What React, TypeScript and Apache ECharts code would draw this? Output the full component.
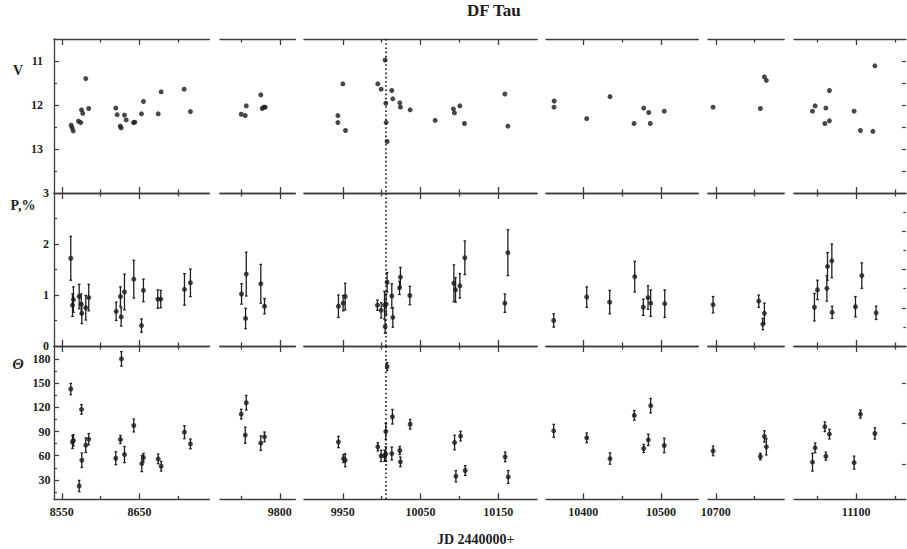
import React, { useEffect, useRef } from "react";
import * as echarts from "echarts";

const titleText = "DF Tau";
const xAxisTitle = "JD 2440000+";
const rowNames = ["V", "P,%", "Θ"];

// broken x-axis segments
const segMin = [8540, 9723, 9900, 10352, 10690, 11020];
const segMax = [8740, 9820, 10200, 10548, 10788, 11164];
const segMajor = [[8550, 8650], [9800], [9950, 10050, 10150], [10400, 10500], [10700], [11100]];
const segMinor = [[8600, 8700], [9750], [10000, 10100], [10450], [10750], [11050, 11150]];
const markJD = 10005.3;

// V magnitude
const vJD = [
  8562.1, 8563.4, 8564.7, 8571.5, 8574.5, 8575.4, 8577.0, 8580.9, 8584.7, 8619.5, 8621.3, 8625.2,
  8626.4, 8630.7, 8632.9, 8642.3, 8644.0, 8652.6, 8655.1, 8674.1, 8677.9, 8707.5, 8715.6,
  9750.3, 9755.5, 9756.8, 9775.5, 9777.3, 9779.4, 9781.2,
  9943.6, 9943.6, 9950.0, 9953.4, 9995.0, 9999.3, 10004.4, 10005.3, 10005.7, 10007.0, 10013.0,
  10014.3, 10023.3, 10024.1, 10036.6, 10068.8, 10092.3, 10093.6, 10100.6, 10106.5, 10158.5, 10162.4,
  10362.5, 10362.3, 10404.4, 10434.4, 10465.3, 10477.7, 10484.2, 10486.2, 10504.2,
  10696.5, 10757.4, 10762.6, 10765.1,
  11043.8, 11047.2, 11059.7, 11061.0, 11065.6, 11065.6, 11097.4, 11105.5, 11121.5, 11124.1,
];
const vMag = [
  12.46, 12.52, 12.59, 12.37, 12.40, 12.11, 12.19, 11.40, 12.08, 12.07, 12.22, 12.48,
  12.52, 12.23, 12.34, 12.40, 12.39, 12.20, 11.92, 12.20, 11.70, 11.64, 12.15,
  12.21, 12.24, 12.02, 11.77, 12.08, 12.05, 12.05,
  12.24, 12.40, 11.52, 12.58, 11.52, 11.64, 10.98, 11.96, 12.40, 12.83, 11.67,
  11.86, 11.95, 12.05, 12.11, 12.35, 12.09, 12.18, 12.02, 12.42, 11.75, 12.48,
  11.91, 12.05, 12.31, 11.81, 12.42, 12.07, 12.17, 12.42, 12.14,
  12.05, 12.08, 11.36, 11.44,
  12.14, 12.02, 12.42, 12.07, 11.67, 12.36, 12.14, 12.58, 12.60, 11.11,
];

// Polarization degree, %
const pJD = [
  8561.6, 8563.8, 8565.0, 8572.4, 8575.0, 8575.8, 8580.9, 8584.7, 8620.0, 8625.5, 8626.4, 8630.7,
  8642.7, 8652.6, 8655.1, 8673.6, 8677.4, 8707.9, 8715.6,
  9750.7, 9755.9, 9756.8, 9775.5, 9780.3,
  9944.3, 9950.4, 9953.0, 9994.5, 9999.3, 10003.6, 10005.7, 10004.4, 10007.0, 10013.0, 10014.3,
  10022.9, 10024.1, 10036.2, 10092.9, 10095.0, 10100.6, 10107.0, 10158.5, 10162.4,
  10361.9, 10404.4, 10434.0, 10466.2, 10477.2, 10483.3, 10486.7, 10504.8,
  10696.5, 10755.3, 10762.6, 10760.5,
  11046.3, 11050.2, 11062.3, 11063.1, 11068.7, 11069.1, 11099.1, 11107.3, 11125.7,
];
const pVal = [
  1.72, 0.80, 0.91, 0.97, 0.82, 0.64, 0.75, 0.95, 0.68, 0.97, 0.57, 1.06,
  1.31, 0.40, 1.09, 0.92, 0.92, 1.11, 1.24,
  1.02, 0.54, 1.41, 1.22, 0.78,
  0.78, 0.84, 0.97, 0.80, 0.70, 0.80, 0.82, 0.38, 1.25, 0.98, 0.56,
  1.14, 1.35, 0.99, 1.23, 1.10, 1.18, 1.73, 0.84, 1.83,
  0.50, 0.96, 0.86, 1.36, 0.76, 0.95, 0.84, 0.83,
  0.81, 0.88, 0.64, 0.43,
  0.76, 1.10, 1.13, 1.56, 1.67, 0.66, 0.77, 1.38, 0.65,
];
const pErr = [
  0.43, 0.22, 0.25, 0.24, 0.20, 0.20, 0.24, 0.26, 0.18, 0.19, 0.18, 0.35,
  0.37, 0.13, 0.22, 0.18, 0.17, 0.31, 0.27,
  0.20, 0.20, 0.43, 0.38, 0.15,
  0.22, 0.15, 0.26, 0.10, 0.15, 0.27, 0.20, 0.13, 0.19, 0.24, 0.19,
  0.13, 0.19, 0.18, 0.36, 0.24, 0.24, 0.33, 0.18, 0.45,
  0.13, 0.20, 0.23, 0.30, 0.16, 0.23, 0.26, 0.27,
  0.16, 0.12, 0.20, 0.11,
  0.27, 0.19, 0.25, 0.27, 0.33, 0.12, 0.20, 0.25, 0.13,
];

// Position angle, degrees
const tJD = [
  8561.6, 8563.8, 8565.0, 8572.4, 8575.4, 8575.8, 8580.9, 8584.7, 8619.5, 8626.8, 8625.5, 8630.7,
  8642.7, 8653.0, 8655.1, 8674.1, 8677.9, 8707.9, 8715.6,
  9750.3, 9756.8, 9755.5, 9775.5, 9780.3,
  9944.3, 9950.8, 9953.0, 9995.0, 9999.3, 10003.6, 10005.3, 10005.3, 10007.0, 10013.0, 10013.8,
  10023.3, 10024.1, 10036.6, 10093.8, 10095.5, 10101.5, 10107.5, 10158.9, 10162.8,
  10361.9, 10404.4, 10434.4, 10465.6, 10477.7, 10483.7, 10486.7, 10504.2,
  10696.5, 10757.4, 10762.6, 10765.1,
  11043.8, 11047.2, 11059.7, 11061.0, 11065.6, 11097.4, 11105.5, 11124.1,
];
const tVal = [
  142.7, 77, 79, 22.5, 117.4, 54.4, 73.1, 80.5, 56.9, 180, 80.1, 61.5,
  97.5, 50.3, 57.8, 56.1, 47, 89.2, 74.7,
  111.6, 125.7, 85.5, 75.6, 83.4,
  77, 56.5, 54.4, 71, 59.8, 60, 62, 90, 170.5, 62.7, 108.3,
  66.5, 52.4, 99, 76.4, 34.6, 84.3, 41.7, 58.6, 33.7,
  90.9, 82.2, 56.5, 110, 69, 79.7, 122, 72.7,
  66, 59, 83.9, 71,
  52, 69.8, 95.9, 59.4, 86.8, 51.5, 111.6, 87.6,
];
const tErr = [
  7, 8, 7, 7, 6, 9, 9, 7, 8, 9, 5, 10,
  8, 10, 5, 6, 6, 8, 6,
  6, 9, 10, 9, 6,
  7, 5, 8, 5, 7, 7, 9, 10, 5, 8, 9,
  5, 6, 6, 9, 7, 6, 6, 6, 8,
  8, 6, 7, 6, 5, 7, 9, 9,
  6, 4, 7, 10,
  11, 6, 6, 5, 6, 8, 5, 7,
];

// y-axis scales and ticks per row
const yMin = [10.5, 0, 6];
const yMax = [14, 3, 196];
const yInverse = [true, false, false];
const yLabels = [[11, 12, 13], [0, 1, 2, 3], [30, 60, 90, 120, 150, 180]];
const yMajorTicks = [[11, 12, 13], [1, 2], [30, 60, 90, 120, 150, 180]];
const yMinorTicks = [[11.5, 12.5, 13.5], [0.5, 1.5, 2.5], [15, 45, 75, 105, 135, 165]];
const yRightTicks = [[11, 11.5, 12, 12.5, 13, 13.5], [0.75, 1.5, 2.25], [50, 100, 150]];
const yRightMinor = [[], [0.375, 1.125, 1.875, 2.625], []];

// layout (pixels)
const colLeft = [54, 220, 304, 546, 708, 794];
const pxPerDay = 0.777;
const rowTop = [39, 193, 346];
const rowBottom = [193, 346, 499.3];
const labelMargins = [11, 5, 3.5];

const FONT = "'Liberation Serif', 'Times New Roman', serif";
const INK = "#1e1e1e";
const LINE = "#3c3c3c";
const plain = (v: number) => String(v);

function buildOption() {
  const grid: any[] = [];
  const xAxis: any[] = [];
  const yAxis: any[] = [];
  const series: any[] = [];

  const rowsData = [
    vJD.map((x, i) => [x, vMag[i]]),
    pJD.map((x, i) => [x, pVal[i], pErr[i]]),
    tJD.map((x, i) => [x, tVal[i], tErr[i]]),
  ];

  for (let r = 0; r < 3; r++) {
    for (let c = 0; c < 6; c++) {
      const left = colLeft[c];
      const width = (segMax[c] - segMin[c]) * pxPerDay;
      const top = rowTop[r];
      const height = rowBottom[r] - rowTop[r];
      const gMain = grid.length;
      grid.push({ left, top, width, height });
      const gMinor = grid.length;
      grid.push({ left, top, width, height });

      const baseX = (gi: number, pos: string, ticks: number[], len: number, line: boolean, labels: boolean) => ({
        gridIndex: gi,
        type: "value",
        position: pos,
        min: segMin[c],
        max: segMax[c],
        splitLine: { show: false },
        axisLine: { show: line, onZero: false, lineStyle: { color: LINE, width: 1.3 } },
        axisTick: { show: true, inside: true, length: len, customValues: ticks, lineStyle: { color: LINE, width: 1.3 } },
        axisLabel: labels
          ? { show: true, customValues: segMajor[c], formatter: plain, margin: 7, fontFamily: FONT, fontWeight: "bold", fontSize: 12, color: INK }
          : { show: false },
      });
      const xMainBottom = xAxis.length;
      xAxis.push(baseX(gMain, "bottom", segMajor[c], 6, true, r === 2));
      xAxis.push(baseX(gMain, "top", segMajor[c], 6, true, false));
      xAxis.push(baseX(gMinor, "bottom", segMinor[c], 3.5, false, false));
      xAxis.push(baseX(gMinor, "top", segMinor[c], 3.5, false, false));

      const baseY = (gi: number, pos: string, ticks: number[], len: number, line: boolean, showTicks: boolean, labels: boolean) => ({
        gridIndex: gi,
        type: "value",
        position: pos,
        min: yMin[r],
        max: yMax[r],
        inverse: yInverse[r],
        splitLine: { show: false },
        axisLine: { show: line, onZero: false, lineStyle: { color: LINE, width: 1.3 } },
        axisTick: { show: showTicks, inside: true, length: len, customValues: ticks, lineStyle: { color: LINE, width: 1.2 } },
        axisLabel: labels
          ? { show: true, customValues: yLabels[r], formatter: plain, margin: labelMargins[r], fontFamily: FONT, fontWeight: "bold", fontSize: 12, color: INK }
          : { show: false },
      });
      const yMainLeft = yAxis.length;
      yAxis.push(baseY(gMain, "left", yMajorTicks[r], 5, c === 0, c === 0, c === 0));
      yAxis.push(baseY(gMain, "right", yRightTicks[r], 4, false, c === 5, false));
      yAxis.push(baseY(gMinor, "left", yMinorTicks[r], 3, false, c === 0, false));
      yAxis.push(baseY(gMinor, "right", yRightMinor[r], 2.5, false, c === 5 && yRightMinor[r].length > 0, false));

      const pts = rowsData[r].filter((d) => d[0] >= segMin[c] && d[0] <= segMax[c]);

      if (r > 0) {
        series.push({
          type: "custom",
          xAxisIndex: xMainBottom,
          yAxisIndex: yMainLeft,
          data: pts,
          encode: { x: 0, y: 1 },
          silent: true,
          renderItem: (params: any, api: any) => {
            const x = api.value(0);
            const y = api.value(1);
            const e = api.value(2);
            const a = api.coord([x, y + e]);
            const b = api.coord([x, y - e]);
            const st = { stroke: "#202020", lineWidth: 1.3 };
            return {
              type: "group",
              children: [
                { type: "line", shape: { x1: a[0], y1: a[1], x2: b[0], y2: b[1] }, style: st },
                { type: "line", shape: { x1: a[0] - 1.3, y1: a[1], x2: a[0] + 1.3, y2: a[1] }, style: st },
                { type: "line", shape: { x1: b[0] - 1.3, y1: b[1], x2: b[0] + 1.3, y2: b[1] }, style: st },
              ],
            };
          },
        });
      }

      const sc: any = {
        type: "scatter",
        xAxisIndex: xMainBottom,
        yAxisIndex: yMainLeft,
        data: pts.map((d) => [d[0], d[1]]),
        symbol: "circle",
        symbolSize: 5,
        itemStyle: { color: "#1a1a1a" },
        silent: true,
      };
      if (c === 2) {
        sc.markLine = {
          silent: true,
          symbol: ["none", "none"],
          label: { show: false },
          lineStyle: { color: "#111", width: 1.6, type: [1.6, 2.6] },
          data: [{ xAxis: markJD }],
        };
      }
      series.push(sc);
    }
  }

  const textStyle = (extra: any) => ({ fontFamily: FONT, fontWeight: "bold", fill: INK, ...extra });
  const graphic = [
    { type: "text", left: 467, top: 2, style: textStyle({ text: titleText, fontSize: 17 }) },
    { type: "text", x: 18, y: 70, style: textStyle({ text: rowNames[0], fontSize: 14, align: "center", verticalAlign: "middle" }) },
    { type: "text", x: 23, y: 205, style: textStyle({ text: rowNames[1], fontSize: 14, align: "center", verticalAlign: "middle" }) },
    { type: "text", x: 18, y: 364, style: textStyle({ text: rowNames[2], fontSize: 15, fontStyle: "italic", align: "center", verticalAlign: "middle" }) },
    { type: "text", x: 437, y: 532, style: textStyle({ text: xAxisTitle, fontSize: 14 }) },
  ];

  return {
    animation: false,
    backgroundColor: "#ffffff",
    grid,
    xAxis,
    yAxis,
    series,
    graphic,
  };
}

export default function App() {
  const ref = useRef<HTMLDivElement>(null);
  useEffect(() => {
    if (!ref.current) return;
    const chart = echarts.init(ref.current, null, { renderer: "svg" });
    chart.setOption(buildOption() as any);
    return () => chart.dispose();
  }, []);
  return (
    <div
      ref={ref}
      style={{ position: "absolute", left: 0, top: 0, width: 907, height: 549, background: "#fff" }}
    />
  );
}
